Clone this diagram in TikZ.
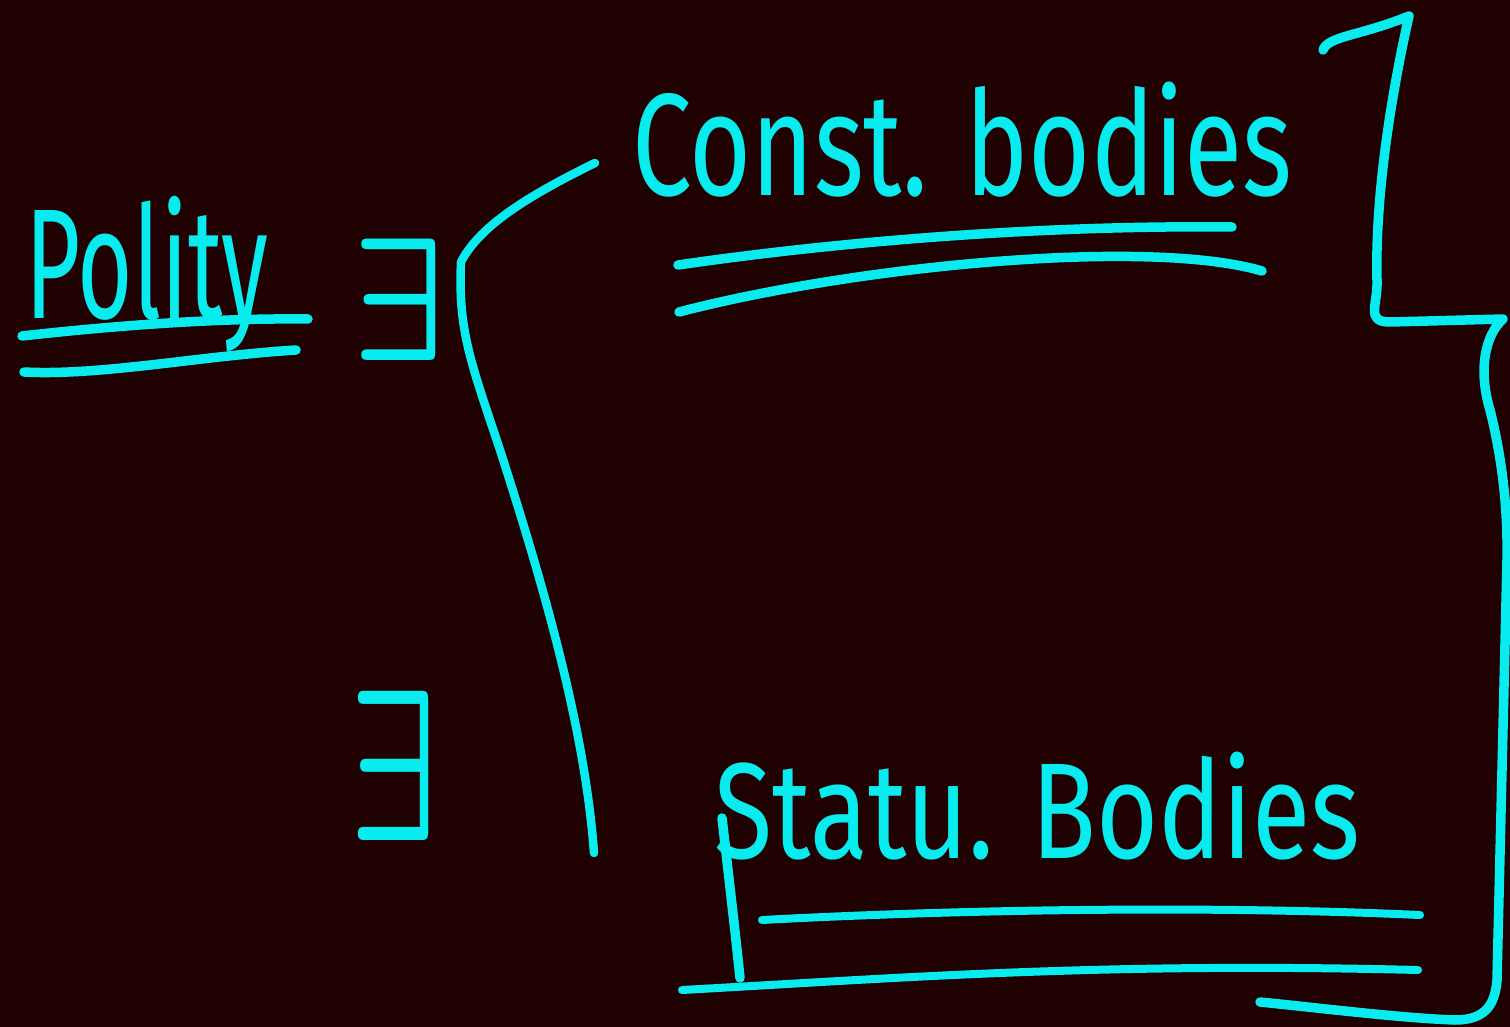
\documentclass[tikz,border=0pt]{standalone}
\usepackage{fontspec}
\setmainfont{Fira Sans}
\definecolor{board}{RGB}{32,2,2}
\definecolor{chalk}{RGB}{8,236,240}
\begin{document}
\begin{tikzpicture}[x=1pt,y=-1pt,
  ink/.style={draw=chalk, line width=9.5pt, line cap=round, line join=round},
  word/.style={text=chalk, inner sep=0pt, anchor=base west}]
\fill[board] (0,0) rectangle (1510,1027);
\useasboundingbox (0,0) rectangle (1510,1027);

% Polity, double underlined
\node[word, font=\fontsize{140}{140}\selectfont, xscale=0.68, yscale=1.12] (polity) at (25,318) {Polity};
\draw[ink] (22,336) .. controls (120,325) and (220,318) .. (308,319);
\draw[ink] (24,372) .. controls (100,376) and (200,356) .. (296,350);

% "there exist" marks
\node[word] (ex1) at (352,360) {\scalebox{14.5}[17.5]{\boldmath$\exists$}};
\node[word] (ex2) at (349,840) {\scalebox{13.8}[21.5]{\boldmath$\exists$}};

% left brace
\draw[ink, line width=8.5pt] (595,163) .. controls (530,195) and (480,225) .. (461,262)
  .. controls (458,330) and (470,360) .. (500,450)
  .. controls (545,590) and (585,730) .. (594,853);

% constitutional bodies
\node[word, font=\fontsize{140}{140}\selectfont, xscale=0.76, yscale=1.04] (const) at (632,196) {Const. bodies};
\draw[ink] (678,265) .. controls (850,240) and (1050,225) .. (1232,227);
\draw[ink] (679,312) .. controls (860,265) and (1150,238) .. (1262,271);

% right bracket
\draw[ink] (1323,50) .. controls (1328,36) and (1360,36) .. (1409,16)
  .. controls (1390,100) and (1375,200) .. (1377,280)
  .. controls (1378,305) and (1365,322) .. (1390,322) -- (1503,319)
  .. controls (1485,335) and (1478,370) .. (1490,410)
  .. controls (1500,450) and (1508,500) .. (1507,560) -- (1497,980)
  .. controls (1495,1005) and (1485,1020) .. (1455,1020)
  .. controls (1400,1018) and (1320,1008) .. (1260,1002);

% statutory bodies
\node[word, font=\fontsize{130}{130}\selectfont, xscale=0.82, yscale=1.05] (statu) at (714,858) {Statu. Bodies};
\draw[ink] (722,818) .. controls (728,870) and (735,930) .. (740,978);
\draw[ink, line width=8pt] (762,920) .. controls (950,910) and (1200,905) .. (1420,915);
\draw[ink, line width=8pt] (682,990) .. controls (900,978) and (1100,962) .. (1418,970);
\end{tikzpicture}
\end{document}
